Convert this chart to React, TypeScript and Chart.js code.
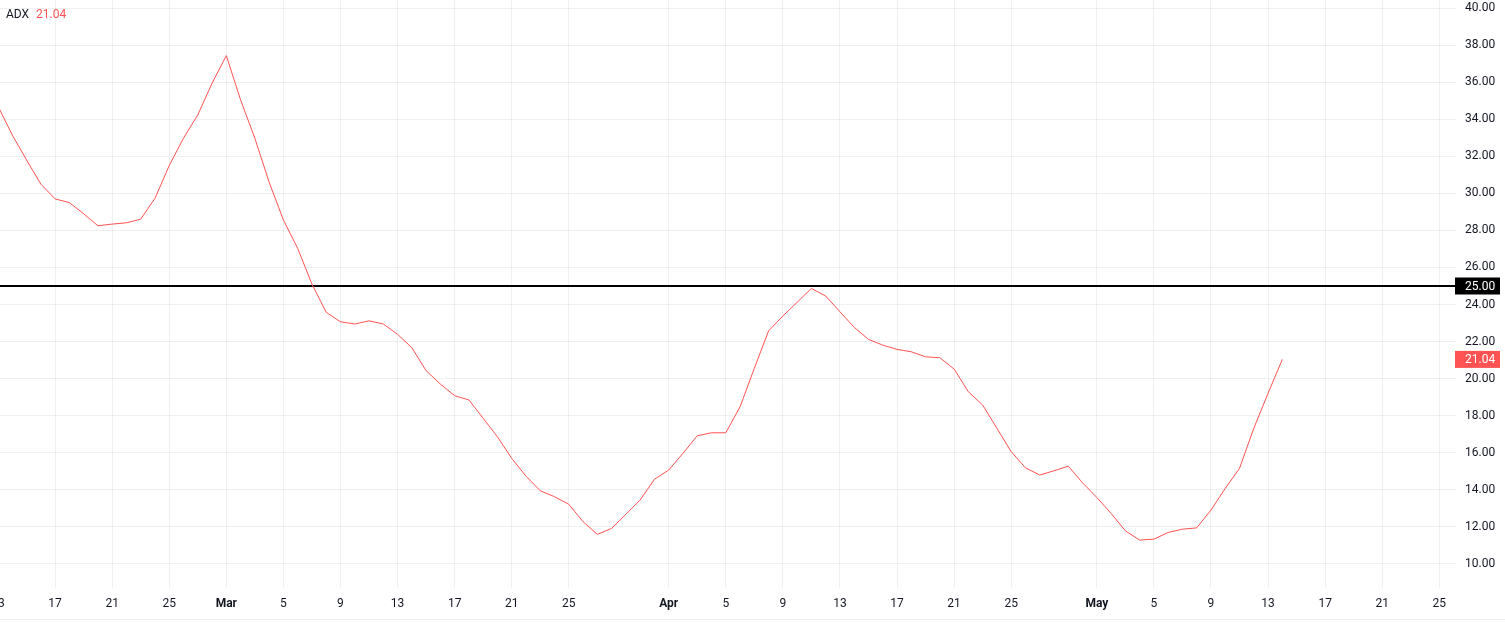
import React, { useEffect, useRef } from "react";
import { Chart, registerables } from "chart.js";

Chart.register(...registerables);

// Daily ADX values, one per day starting at Feb 13 (day 0) and ending May 14 (day 90)
const adxValues: number[] = [
  // Feb 13 - Feb 28
  34.7, 33.15, 31.8, 30.5, 29.7, 29.5, 28.9, 28.25, 28.34, 28.41, 28.61, 29.73, 31.5, 32.98, 34.23, 35.94,
  // Mar 1 - Mar 31
  37.43, 35.04, 32.97, 30.6, 28.56, 27.03, 25.1, 23.58, 23.07, 22.95, 23.12, 22.95, 22.39, 21.67, 20.43, 19.71,
  19.08, 18.85, 17.86, 16.86, 15.7, 14.74, 13.95, 13.63, 13.22, 12.28, 11.6, 11.92, 12.68, 13.45, 14.57,
  // Apr 1 - Apr 30
  15.07, 15.97, 16.92, 17.08, 17.08, 18.48, 20.56, 22.58, 23.38, 24.12, 24.87, 24.46, 23.61, 22.77, 22.12,
  21.81, 21.58, 21.45, 21.18, 21.13, 20.52, 19.29, 18.58, 17.32, 16.06, 15.19, 14.8, 15.03, 15.28, 14.38,
  // May 1 - May 14
  13.59, 12.73, 11.79, 11.29, 11.34, 11.7, 11.88, 11.95, 12.91, 14.08, 15.16, 17.32, 19.21, 21.04,
];

// Time-axis ticks (day offsets from Feb 13) and their labels
const xTickDays: number[] = [0, 4, 8, 12, 16, 20, 24, 28, 32, 36, 40, 47, 51, 55, 59, 63, 67, 71, 77, 81, 85, 89, 93, 97, 101];
const xTickLabels: string[] = [
  "13", "17", "21", "25", "Mar", "5", "9", "13", "17", "21", "25",
  "Apr", "5", "9", "13", "17", "21", "25",
  "May", "5", "9", "13", "17", "21", "25",
];

// Price-axis ticks
const yTickValues: number[] = [10, 12, 14, 16, 18, 20, 22, 24, 26, 28, 30, 32, 34, 36, 38, 40];

const thresholdLevel = 25;
const seriesName = "ADX";

const X_MIN = 0.14;
const X_MAX = 102.17;
const Y_MIN = 8.705;
const Y_MAX = 40.432;

const FONT = "Roboto, 'DejaVu Sans', sans-serif";
const TEXT = "#131722";
const RED = "#ff5252";
const GRID = "rgba(42,46,57,0.07)";

export default function App() {
  const canvasRef = useRef<HTMLCanvasElement | null>(null);

  useEffect(() => {
    const prevMargin = document.body.style.margin;
    document.body.style.margin = "0";
    const canvas = canvasRef.current;
    if (!canvas) return;

    const lastValue = adxValues[adxValues.length - 1];

    const overlay = {
      id: "overlay",
      beforeDatasetsDraw(chart: any) {
        const { ctx, chartArea, scales } = chart;
        const y = Math.round(scales.y.getPixelForValue(thresholdLevel));
        ctx.save();
        ctx.strokeStyle = "#000000";
        ctx.lineWidth = 2;
        ctx.beginPath();
        ctx.moveTo(chartArea.left, y);
        ctx.lineTo(chartArea.right, y);
        ctx.stroke();
        ctx.restore();
      },
      afterDraw(chart: any) {
        const { ctx, chartArea, scales, width } = chart;
        ctx.save();
        // bottom border of time axis
        ctx.strokeStyle = GRID;
        ctx.lineWidth = 1;
        ctx.beginPath();
        ctx.moveTo(0, 619.5);
        ctx.lineTo(width, 619.5);
        ctx.stroke();

        // price labels
        const drawBox = (value: number, bg: string) => {
          const yy = scales.y.getPixelForValue(value);
          const x0 = chartArea.right - 1;
          ctx.fillStyle = bg;
          ctx.fillRect(x0, yy - 8.5, 45, 17);
          ctx.fillStyle = "#ffffff";
          ctx.font = `12px ${FONT}`;
          ctx.textAlign = "left";
          ctx.textBaseline = "middle";
          ctx.fillText(value.toFixed(2), chartArea.right + 9, yy + 0.5);
        };
        drawBox(thresholdLevel, "#000000");
        drawBox(lastValue, RED);

        // legend
        ctx.font = `12px ${FONT}`;
        ctx.textAlign = "left";
        ctx.textBaseline = "alphabetic";
        ctx.fillStyle = TEXT;
        ctx.fillText(seriesName, 6, 18);
        ctx.fillStyle = RED;
        ctx.fillText(lastValue.toFixed(2), 36, 18);
        ctx.restore();
      },
    };

    const chart = new Chart(canvas, {
      type: "line",
      data: {
        datasets: [
          {
            label: seriesName,
            data: adxValues.map((v, i) => ({ x: i, y: v })),
            borderColor: RED,
            borderWidth: 1,
            pointRadius: 0,
            tension: 0,
            fill: false,
          },
        ],
      },
      options: {
        responsive: true,
        maintainAspectRatio: false,
        animation: false,
        layout: { padding: 0 },
        plugins: { legend: { display: false }, tooltip: { enabled: false } },
        scales: {
          x: {
            type: "linear",
            min: X_MIN,
            max: X_MAX,
            afterBuildTicks: (scale: any) => {
              scale.ticks = xTickDays.map((d) => ({ value: d }));
            },
            afterFit: (scale: any) => {
              scale.height = 34;
              scale.paddingLeft = 0;
              scale.paddingRight = 0;
              scale.paddingTop = 0;
              scale.paddingBottom = 0;
            },
            grid: { color: GRID, drawTicks: false, lineWidth: 1 },
            border: { display: false },
            ticks: {
              autoSkip: false,
              maxRotation: 0,
              padding: 9,
              color: TEXT,
              font: (ctx: any) => ({
                family: FONT,
                size: 12,
                weight: /^[A-Za-z]/.test(xTickLabels[ctx.index] || "") ? "bold" : "normal",
              }),
              callback: (_v: any, i: number) => xTickLabels[i],
            },
          },
          y: {
            type: "linear",
            position: "right",
            min: Y_MIN,
            max: Y_MAX,
            afterBuildTicks: (scale: any) => {
              scale.ticks = yTickValues.map((v) => ({ value: v }));
            },
            afterFit: (scale: any) => {
              scale.width = 49;
              scale.paddingLeft = 0;
              scale.paddingRight = 0;
              scale.paddingTop = 0;
              scale.paddingBottom = 0;
            },
            grid: { color: GRID, drawTicks: false, lineWidth: 1 },
            border: { display: false },
            ticks: {
              padding: 9,
              color: TEXT,
              font: { family: FONT, size: 12 },
              callback: (v: any) => Number(v).toFixed(2),
            },
          },
        },
      },
      plugins: [overlay],
    });

    return () => {
      chart.destroy();
      document.body.style.margin = prevMargin;
    };
  }, []);

  return (
    <div style={{ position: "fixed", left: 0, top: 0, width: 1505, height: 622, background: "#ffffff" }}>
      <canvas ref={canvasRef} />
    </div>
  );
}
